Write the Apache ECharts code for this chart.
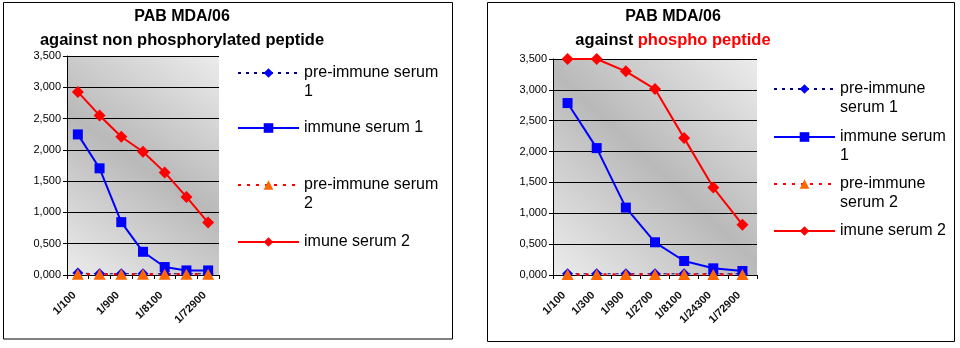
<!DOCTYPE html>
<html>
<head>
<meta charset="utf-8">
<script src="https://cdn.jsdelivr.net/npm/echarts@6/dist/echarts.min.js"></script>
<style>
  html, body { margin: 0; padding: 0; background: #ffffff; }
  #chart { width: 960px; height: 348px; }
</style>
</head>
<body>
<div id="chart"></div>
<script>
// Dilution steps (3-fold series)
const dilutions = ['1/100', '1/300', '1/900', '1/2700', '1/8100', '1/24300', '1/72900'];

// Series names
const seriesNames = ['pre-immune serum 1', 'immune serum 1', 'pre-immune serum 2', 'imune serum 2'];

// Y axis ticks
const yTicks = { min: 0, max: 3.5, step: 0.5 };

// Absorbance against the non phosphorylated peptide
const nonPhosPre1 = [0.03, 0.02, 0.02, 0.02, 0.02, 0.02, 0.02];
const nonPhosImmune1 = [2.247, 1.705, 0.845, 0.371, 0.127, 0.073, 0.073];
const nonPhosPre2 = [0.01, 0.01, 0.01, 0.01, 0.01, 0.01, 0.01];
const nonPhosImmune2 = [2.926, 2.55, 2.209, 1.97, 1.64, 1.248, 0.838];

// Absorbance against the phospho peptide
const phosPre1 = [0.02, 0.02, 0.02, 0.02, 0.02, 0.02, 0.02];
const phosImmune1 = [2.786, 2.056, 1.092, 0.53, 0.227, 0.108, 0.065];
const phosPre2 = [0.01, 0.01, 0.01, 0.01, 0.01, 0.01, 0.01];
const phosImmune2 = [3.5, 3.5, 3.3, 3.013, 2.218, 1.417, 0.816];

const FONT = 'Arial, "Liberation Sans", sans-serif';

const plotBg = {
  type: 'linear', x: 0, y: 1, x2: 1, y2: 0,
  colorStops: [
    { offset: 0, color: '#ececec' },
    { offset: 0.5, color: '#b9b9b9' },
    { offset: 1, color: '#ececec' }
  ]
};

function makeGrid(left, top, width, height) {
  return {
    left, top, width, height,
    containLabel: false,
    outerBoundsMode: 'none',
    show: true,
    borderWidth: 0,
    backgroundColor: plotBg
  };
}

function makeX(gridIndex, labelInterval) {
  return {
    type: 'category',
    gridIndex,
    data: dilutions,
    boundaryGap: true,
    axisLine: { show: true, lineStyle: { color: '#000', width: 1 } },
    axisTick: { show: true, interval: 0, length: 4, inside: false, lineStyle: { color: '#000' } },
    axisLabel: {
      interval: labelInterval,
      rotate: 45,
      margin: 15,
      padding: [0, 5, 0, 0],
      color: '#111',
      fontSize: 11,
      fontWeight: 'bold',
      fontFamily: FONT
    },
    splitLine: { show: false }
  };
}

function makeY(gridIndex) {
  return {
    type: 'value',
    gridIndex,
    min: yTicks.min,
    max: yTicks.max,
    interval: yTicks.step,
    axisLine: { show: true, lineStyle: { color: '#000', width: 1 } },
    axisTick: { show: true, length: 4, inside: false, lineStyle: { color: '#000' } },
    axisLabel: {
      margin: 6,
      color: '#000',
      fontSize: 11,
      fontFamily: FONT,
      formatter: v => v.toFixed(3).replace('.', ',')
    },
    splitLine: { show: true, lineStyle: { color: '#000', width: 1 } }
  };
}

function makeSeries(idx, pre1, imm1, pre2, imm2) {
  const common = { xAxisIndex: idx, yAxisIndex: idx, clip: false, showAllSymbol: true, emphasis: { disabled: true } };
  return [
    Object.assign({}, common, {
      name: seriesNames[0], type: 'line', data: pre1,
      symbol: 'diamond', symbolSize: 11,
      itemStyle: { color: '#0000ff' },
      lineStyle: { color: '#000080', width: 1, type: [3, 5] }
    }),
    Object.assign({}, common, {
      name: seriesNames[1], type: 'line', data: imm1,
      symbol: 'rect', symbolSize: 10,
      itemStyle: { color: '#0000ff' },
      lineStyle: { color: '#0000ff', width: 2 }
    }),
    Object.assign({}, common, {
      name: seriesNames[2], type: 'line', data: pre2,
      symbol: 'triangle', symbolSize: [12, 11],
      itemStyle: { color: '#ff6600' },
      lineStyle: { color: '#ff0000', width: 2.5, type: [3, 6] }
    }),
    Object.assign({}, common, {
      name: seriesNames[3], type: 'line', data: imm2,
      symbol: 'diamond', symbolSize: 12,
      itemStyle: { color: '#ff0000' },
      lineStyle: { color: '#ff0000', width: 2 }
    })
  ];
}

// One legend block per entry; a leading blank line keeps the icon level with the first text line
function makeLegend(name, label, left, iconCenterY) {
  const lh = 19;
  const text = label.indexOf('\n') >= 0 ? '\n' + label : label;
  const n = text.split('\n').length;
  const blockTop = 6 - (n * lh) / 2; // relative to icon top
  return {
    data: [name],
    left,
    top: iconCenterY - 6 + blockTop,
    orient: 'vertical',
    padding: 0,
    itemWidth: 61,
    itemHeight: 12,
    selectedMode: false,
    formatter: () => text,
    textStyle: {
      color: '#000',
      fontSize: 16,
      fontFamily: FONT,
      lineHeight: lh
    }
  };
}

const legendsLeft = [
  makeLegend(seriesNames[0], 'pre-immune serum\n1', 237, 73),
  makeLegend(seriesNames[1], 'immune serum 1', 237, 128),
  makeLegend(seriesNames[2], 'pre-immune serum\n2', 237, 185),
  makeLegend(seriesNames[3], 'imune serum 2', 237, 242)
];
const legendsRight = [
  makeLegend(seriesNames[0], 'pre-immune\nserum 1', 773, 89),
  makeLegend(seriesNames[1], 'immune serum\n1', 773, 137),
  makeLegend(seriesNames[2], 'pre-immune\nserum 2', 773, 184),
  makeLegend(seriesNames[3], 'imune serum 2', 773, 231)
];

const titleFont = 'bold 16px ' + FONT;

const option = {
  animation: false,
  backgroundColor: '#ffffff',
  grid: [makeGrid(67, 56, 152, 219), makeGrid(553, 59, 204, 216)],
  xAxis: [makeX(0, 1), makeX(1, 0)],
  yAxis: [makeY(0), makeY(1)],
  legend: legendsLeft.concat(legendsRight),
  series: makeSeries(0, nonPhosPre1, nonPhosImmune1, nonPhosPre2, nonPhosImmune2)
    .concat(makeSeries(1, phosPre1, phosImmune1, phosPre2, phosImmune2)),
  graphic: [
    { type: 'rect', z: -10, shape: { x: 3.5, y: 2.5, width: 449, height: 336.5 },
      style: { fill: null, stroke: '#000', lineWidth: 1 } },
    { type: 'rect', z: -10, shape: { x: 487.5, y: 2.5, width: 467, height: 339 },
      style: { fill: null, stroke: '#000', lineWidth: 1 } },
    { type: 'text', x: 182, y: 17,
      style: { text: 'PAB MDA/06', font: titleFont, fill: '#000', align: 'center', verticalAlign: 'middle' } },
    { type: 'text', x: 182, y: 40,
      style: { text: 'against non phosphorylated peptide', font: 'bold 16.5px ' + FONT, fill: '#000', align: 'center', verticalAlign: 'middle' } },
    { type: 'text', x: 673, y: 17,
      style: { text: 'PAB MDA/06', font: titleFont, fill: '#000', align: 'center', verticalAlign: 'middle' } },
    { type: 'text', x: 673, y: 40,
      style: {
        text: '{k|against }{r|phospho peptide}',
        align: 'center', verticalAlign: 'middle',
        rich: {
          k: { font: 'bold 16.5px ' + FONT, fill: '#000' },
          r: { font: 'bold 16.5px ' + FONT, fill: '#ff0000' }
        }
      } }
  ]
};

const chart = echarts.init(document.getElementById('chart'), null, { renderer: 'canvas' });
chart.setOption(option);
</script>
</body>
</html>
